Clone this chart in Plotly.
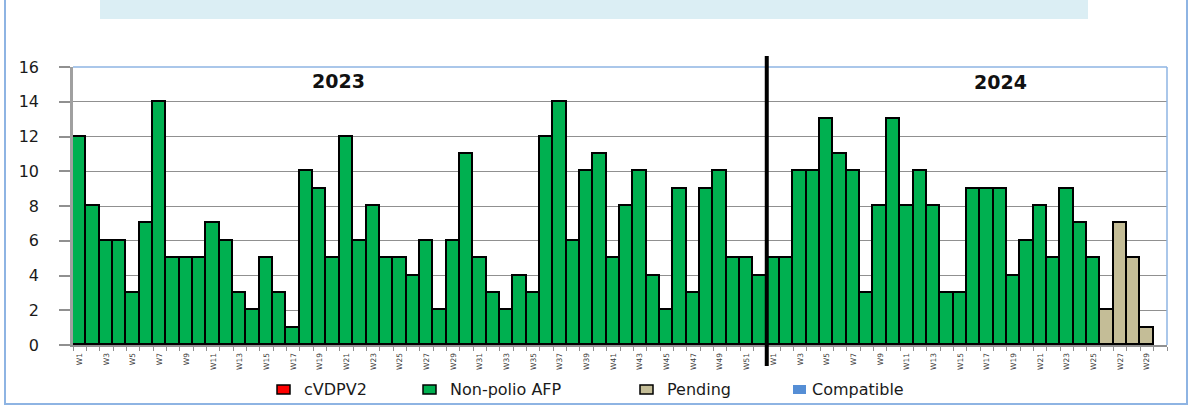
import plotly.graph_objects as go

# ---- data ----
labels_2023 = ["W%d" % i for i in range(1, 53)]
labels_2024 = ["W%d" % i for i in range(1, 31)]

nonpolio_2023 = [12, 8, 6, 6, 3, 7, 14, 5, 5, 5, 7, 6, 3, 2, 5, 3, 1, 10, 9, 5,
                 12, 6, 8, 5, 5, 4, 6, 2, 6, 11, 5, 3, 2, 4, 3, 12, 14, 6, 10, 11,
                 5, 8, 10, 4, 2, 9, 3, 9, 10, 5, 5, 4]
nonpolio_2024_weeks = ["W%d" % i for i in range(1, 26)]
nonpolio_2024 = [5, 5, 10, 10, 13, 11, 10, 3, 8, 13, 8, 10, 8, 3, 3, 9, 9, 9, 4, 6,
                 8, 5, 9, 7, 5]
pending_2024_weeks = ["W26", "W27", "W28", "W29"]
pending_2024 = [2, 7, 5, 1]
cvdpv2_values = []
compatible_values = []

year_labels = ["2023", "2024"]
y_ticks = [0, 2, 4, 6, 8, 10, 12, 14, 16]

# ---- positions ----
pos_2023 = {w: i for i, w in enumerate(labels_2023)}
pos_2024 = {w: len(labels_2023) + i for i, w in enumerate(labels_2024)}
all_labels = labels_2023 + labels_2024
n = len(all_labels)

GREEN = "#00B050"
TAN = "#C4BD97"
RED = "#FF0000"
BLUE = "#558ED5"
BORDER = "#8EB4E3"

x_np = [pos_2023[w] for w in labels_2023] + [pos_2024[w] for w in nonpolio_2024_weeks]
y_np = nonpolio_2023 + nonpolio_2024
x_pe = [pos_2024[w] for w in pending_2024_weeks]

fig = go.Figure()
fig.add_trace(go.Bar(x=x_np, y=y_np, name="Non-polio AFP",
                     marker=dict(color=GREEN, line=dict(color="black", width=1.8)),
                     showlegend=False))
fig.add_trace(go.Bar(x=x_pe, y=pending_2024, name="Pending",
                     marker=dict(color=TAN, line=dict(color="black", width=1.8)),
                     showlegend=False))

odd_idx = [i for i, w in enumerate(all_labels) if int(w[1:]) % 2 == 1]
tickvals = odd_idx
ticktext = [all_labels[i] for i in odd_idx]

L, R, T, B = 73, 27, 67, 62
W, H = 1194, 407
pw, ph = W - L - R, H - T - B


def px(x):
    return (x - L) / pw


def py(y):
    return (H - B - y) / ph


fig.update_layout(
    width=W, height=H,
    margin=dict(l=L, r=R, t=T, b=B),
    paper_bgcolor="white", plot_bgcolor="white",
    barmode="stack", bargap=0,
    showlegend=False,
    font=dict(family="DejaVu Sans", color="#1a1a1a"),
    xaxis=dict(range=[-0.5, n - 0.5], tickmode="array", tickvals=tickvals,
               ticktext=ticktext, tickangle=-90, ticks="", showgrid=False,
               tickfont=dict(size=7.5, color="#404040"), ticklabelstandoff=3,
               showline=True, linecolor="#909090", linewidth=2, zeroline=False,
               minor=dict(tickmode="linear", tick0=-0.5, dtick=1, ticks="outside",
                          ticklen=4, tickcolor="#909090", tickwidth=1, showgrid=False)),
    yaxis=dict(range=[0, 16], tickmode="array", tickvals=y_ticks,
               ticks="outside", ticklen=11, tickcolor="#909090", tickwidth=1.5,
               tickfont=dict(size=16, color="#1a1a1a"), ticklabelstandoff=17,
               showgrid=True, gridcolor="#909090", gridwidth=1.3,
               showline=True, linecolor="#A0A0A0", linewidth=2.5, zeroline=False),
)

shapes = []
# outer frame
shapes.append(dict(type="rect", xref="paper", yref="paper",
                   x0=px(5), x1=px(1187), y0=py(404), y1=py(-10),
                   line=dict(color=BORDER, width=2), fillcolor="rgba(0,0,0,0)", layer="below"))
# title box
shapes.append(dict(type="rect", xref="paper", yref="paper",
                   x0=px(100), x1=px(1088), y0=py(19), y1=py(-5),
                   line=dict(width=0), fillcolor="#DBEEF4", layer="below"))
# plot top & right borders
shapes.append(dict(type="line", xref="paper", yref="paper", x0=0, x1=1, y0=1, y1=1,
                   line=dict(color=BORDER, width=1.5)))
shapes.append(dict(type="line", xref="paper", yref="paper", x0=1, x1=1, y0=0, y1=1,
                   line=dict(color=BORDER, width=1.5)))
# year divider
shapes.append(dict(type="line", xref="x", yref="paper",
                   x0=len(labels_2023) - 0.5, x1=len(labels_2023) - 0.5,
                   y0=py(366), y1=py(56), line=dict(color="black", width=4)))

# manual legend
legend_items = [
    ("cVDPV2", RED, True, 277, 302),
    ("Non-polio AFP", GREEN, True, 423, 448),
    ("Pending", TAN, True, 640, 665),
    ("Compatible", BLUE, False, 793, 810),
]
annotations = []
for name, col, outline, sx, tx in legend_items:
    shapes.append(dict(type="rect", xref="paper", yref="paper",
                       x0=px(sx), x1=px(sx + 13), y0=py(394), y1=py(385),
                       fillcolor=col,
                       line=dict(color="black" if outline else col, width=1.5 if outline else 0)))
    annotations.append(dict(xref="paper", yref="paper", x=px(tx), y=py(389.5),
                            xanchor="left", yanchor="middle", showarrow=False,
                            text=name, font=dict(size=16, color="#1a1a1a")))

annotations.append(dict(xref="paper", yref="paper", x=px(338), y=py(81),
                        xanchor="center", yanchor="middle", showarrow=False,
                        text="<b>%s</b>" % year_labels[0], font=dict(size=19, color="#111")))
annotations.append(dict(xref="paper", yref="paper", x=px(1000), y=py(82),
                        xanchor="center", yanchor="middle", showarrow=False,
                        text="<b>%s</b>" % year_labels[1], font=dict(size=19, color="#111")))

fig.update_layout(shapes=shapes, annotations=annotations)
fig.write_html("out.html", config={"displayModeBar": False},
               post_script="document.body.style.margin='0';document.body.style.padding='0';")
